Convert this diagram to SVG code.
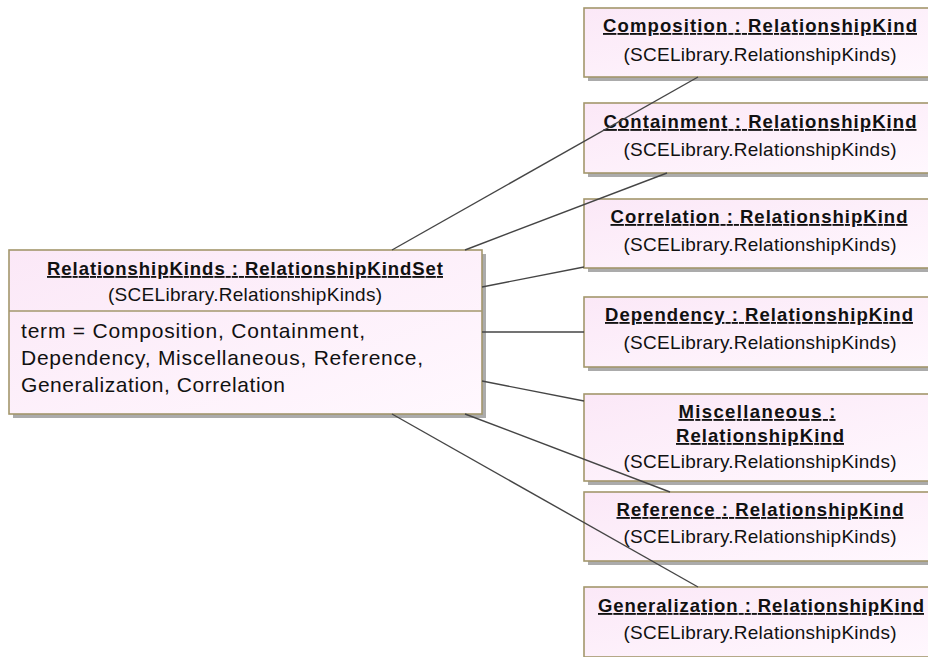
<svg xmlns="http://www.w3.org/2000/svg" width="928" height="657" viewBox="0 0 928 657">
<defs>
<linearGradient id="fill" x1="0" y1="0" x2="1" y2="1">
<stop offset="0" stop-color="#fbe8f7"/>
<stop offset="1" stop-color="#fff8fe"/>
</linearGradient>
<style>
.shadow{fill:#ababab;}
.box{fill:url(#fill);stroke:#a3976c;stroke-width:1.6;}
.div{stroke:#a3976c;stroke-width:1.6;}
.t{font-family:"Liberation Sans",Arial,sans-serif;font-weight:bold;font-size:18.5px;fill:#111;text-anchor:middle;text-decoration:underline;}
.s{font-family:"Liberation Sans",Arial,sans-serif;font-size:19px;fill:#111;text-anchor:middle;}
.a{font-family:"Liberation Sans",Arial,sans-serif;font-size:21px;fill:#111;}
.c{stroke:#454545;stroke-width:1.4;fill:none;}
</style>
</defs>
<rect width="928" height="657" fill="#ffffff"/>

<g id="RelationshipKinds">
<rect class="shadow" x="13" y="254" width="473" height="164"/>
<rect class="box" x="9" y="250" width="473" height="164"/>
<line class="div" x1="9" y1="311" x2="482" y2="311"/>
<text class="t" x="245" y="275" textLength="396" lengthAdjust="spacing">RelationshipKinds : RelationshipKindSet</text>
<text class="s" x="245" y="301" textLength="274" lengthAdjust="spacing">(SCELibrary.RelationshipKinds)</text>
<text class="a" x="21" y="338" textLength="344" lengthAdjust="spacing">term = Composition, Containment,</text>
<text class="a" x="21" y="365" textLength="402" lengthAdjust="spacing">Dependency, Miscellaneous, Reference,</text>
<text class="a" x="21" y="392" textLength="264" lengthAdjust="spacing">Generalization, Correlation</text>
</g>

<g id="Composition">
<rect class="shadow" x="588" y="12" width="352" height="69"/>
<rect class="box" x="584" y="8" width="352" height="69"/>
<text class="t" x="760" y="32" textLength="314" lengthAdjust="spacing">Composition : RelationshipKind</text>
<text class="s" x="760" y="61" textLength="273" lengthAdjust="spacing">(SCELibrary.RelationshipKinds)</text>
</g>

<g id="Containment">
<rect class="shadow" x="588" y="107" width="352" height="70"/>
<rect class="box" x="584" y="103" width="352" height="70"/>
<text class="t" x="760" y="128" textLength="313" lengthAdjust="spacing">Containment : RelationshipKind</text>
<text class="s" x="760" y="156" textLength="273" lengthAdjust="spacing">(SCELibrary.RelationshipKinds)</text>
</g>

<g id="Correlation">
<rect class="shadow" x="588" y="203" width="352" height="69"/>
<rect class="box" x="584" y="199" width="352" height="69"/>
<text class="t" x="759" y="223" textLength="297" lengthAdjust="spacing">Correlation : RelationshipKind</text>
<text class="s" x="760" y="251" textLength="273" lengthAdjust="spacing">(SCELibrary.RelationshipKinds)</text>
</g>

<g id="Dependency">
<rect class="shadow" x="588" y="301" width="352" height="70"/>
<rect class="box" x="584" y="297" width="352" height="70"/>
<text class="t" x="759" y="321" textLength="308" lengthAdjust="spacing">Dependency : RelationshipKind</text>
<text class="s" x="760" y="349" textLength="273" lengthAdjust="spacing">(SCELibrary.RelationshipKinds)</text>
</g>

<g id="Miscellaneous">
<rect class="shadow" x="588" y="398" width="352" height="87"/>
<rect class="box" x="584" y="394" width="352" height="87"/>
<text class="t" x="757" y="418" textLength="157" lengthAdjust="spacing">Miscellaneous :</text>
<text class="t" x="760" y="442" textLength="168" lengthAdjust="spacing">RelationshipKind</text>
<text class="s" x="760" y="468" textLength="273" lengthAdjust="spacing">(SCELibrary.RelationshipKinds)</text>
</g>

<g id="Reference">
<rect class="shadow" x="588" y="496" width="352" height="69"/>
<rect class="box" x="584" y="492" width="352" height="69"/>
<text class="t" x="760" y="516" textLength="287" lengthAdjust="spacing">Reference : RelationshipKind</text>
<text class="s" x="760" y="543" textLength="273" lengthAdjust="spacing">(SCELibrary.RelationshipKinds)</text>
</g>

<g id="Generalization">
<rect class="shadow" x="588" y="591" width="352" height="70"/>
<rect class="box" x="584" y="587" width="352" height="70"/>
<text class="t" x="761" y="612" textLength="326" lengthAdjust="spacing">Generalization : RelationshipKind</text>
<text class="s" x="760" y="639" textLength="273" lengthAdjust="spacing">(SCELibrary.RelationshipKinds)</text>
</g>

<g id="connectors">
<line class="c" x1="392" y1="250" x2="698" y2="77"/>
<line class="c" x1="465" y1="250" x2="667" y2="173"/>
<line class="c" x1="482" y1="287" x2="584" y2="267"/>
<line class="c" x1="482" y1="332" x2="584" y2="332"/>
<line class="c" x1="482" y1="381" x2="584" y2="401"/>
<line class="c" x1="465" y1="414" x2="670" y2="492"/>
<line class="c" x1="392" y1="414" x2="698" y2="587"/>
</g>
</svg>
